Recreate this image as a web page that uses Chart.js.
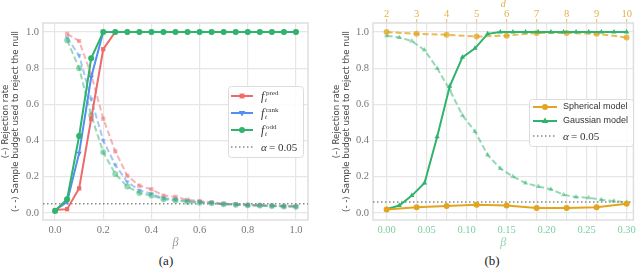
<!DOCTYPE html>
<html lang="en">
<head>
<meta charset="UTF-8">
<title>Rejection rate and sample budget</title>
<style>
  body { margin: 0; background: #fff; }
  .wrap { position: relative; width: 640px; height: 271px; }
  .panel { position: absolute; top: 0; width: 320px; height: 271px; }
  .panel canvas { position: absolute; left: 0; top: 0; }
  .cap { position: absolute; top: 253px; left: 0; width: 320px; text-align: center;
         font-family: "Liberation Serif", serif; font-size: 13px; color: #222; }
</style>
</head>
<body>
<div class="wrap">
  <div class="panel" style="left:0">
    <canvas id="chartA" width="320" height="250"></canvas>
    <div class="cap" style="left:6px">(a)</div>
  </div>
  <div class="panel" style="left:320px">
    <canvas id="chartB" width="320" height="250"></canvas>
    <div class="cap" style="left:12px">(b)</div>
  </div>
</div>

<script src="https://cdn.jsdelivr.net/npm/chart.js"></script>
<script>
// ---- panel (a) ----
var betaA = [0, 0.05, 0.1, 0.15, 0.2, 0.25, 0.3, 0.35, 0.4, 0.45, 0.5, 0.55, 0.6, 0.65, 0.7, 0.75, 0.8, 0.85, 0.9, 0.95, 1.0];
var predRate = [0.015, 0.02, 0.135, 0.52, 0.905, 1, 1, 1, 1, 1, 1, 1, 1, 1, 1, 1, 1, 1, 1, 1, 1];
var rankRate = [0.015, 0.06, 0.33, 0.75, 1, 1, 1, 1, 1, 1, 1, 1, 1, 1, 1, 1, 1, 1, 1, 1, 1];
var oddRate = [0.01, 0.075, 0.425, 0.855, 1, 1, 1, 1, 1, 1, 1, 1, 1, 1, 1, 1, 1, 1, 1, 1, 1];
var predBudget = [null, 0.99, 0.95, 0.765, 0.52, 0.34, 0.205, 0.15, 0.13, 0.095, 0.088, 0.072, 0.065, 0.058, 0.05, 0.048, 0.043, 0.042, 0.04, 0.037, 0.036];
var rankBudget = [null, 0.97, 0.87, 0.63, 0.40, 0.265, 0.17, 0.125, 0.105, 0.08, 0.075, 0.065, 0.06, 0.055, 0.048, 0.045, 0.042, 0.04, 0.038, 0.036, 0.035];
var oddBudget = [null, 0.955, 0.80, 0.54, 0.335, 0.215, 0.145, 0.11, 0.095, 0.075, 0.068, 0.06, 0.055, 0.052, 0.047, 0.044, 0.041, 0.04, 0.037, 0.035, 0.034];
var alphaA = 0.05;
var xTicksA = [0, 0.2, 0.4, 0.6, 0.8, 1.0];
var yTicks = [0, 0.2, 0.4, 0.6, 0.8, 1.0];

// ---- panel (b) ----
var betaB = [0, 0.0158, 0.0316, 0.0474, 0.0632, 0.0789, 0.0947, 0.1105, 0.1263, 0.1421, 0.1579, 0.1737, 0.1895, 0.2053, 0.2211, 0.2368, 0.2526, 0.2684, 0.2842, 0.3];
var gaussRate = [0.02, 0.04, 0.095, 0.165, 0.42, 0.70, 0.86, 0.91, 0.99, 1, 1, 1, 1, 1, 1, 1, 1, 1, 1, 1];
var gaussBudget = [0.98, 0.97, 0.95, 0.90, 0.80, 0.68, 0.54, 0.45, 0.32, 0.245, 0.20, 0.165, 0.145, 0.13, 0.10, 0.087, 0.083, 0.072, 0.065, 0.058];
var dims = [2, 3, 4, 5, 6, 7, 8, 9, 10];
var sphRate = [0.018, 0.03, 0.038, 0.044, 0.04, 0.027, 0.027, 0.031, 0.05];
var sphBudget = [1.0, 0.99, 0.985, 0.975, 0.98, 0.995, 0.995, 0.99, 0.97];
var alphaB = 0.06;
var xTicksB = [0, 0.05, 0.1, 0.15, 0.2, 0.25, 0.3];

var RED = '#ee6b6b', RED_L = 'rgba(238,107,107,0.5)';
var BLUE = '#528ff0', BLUE_L = 'rgba(82,143,240,0.5)';
var GREEN = '#2fb36d', GREEN_L = 'rgba(47,179,109,0.5)';
var ORANGE = '#e3a520', ORANGE_L = 'rgba(227,165,32,0.75)';
var GRID = '#e6e6e6';
var SERIF = '"Liberation Serif", serif';
var SANS = '"DejaVu Sans", sans-serif';

function pts(xs, ys) {
    return xs.map(function (x, i) { return { x: x, y: ys[i] }; });
}

function line(data, color, shape, dashed, rot, xAxis) {
    return {
        data: data,
        xAxisID: xAxis || 'x',
        borderColor: color,
        backgroundColor: color,
        borderWidth: 2,
        borderDash: dashed ? [6, 3] : [],
        pointStyle: shape,
        pointRotation: rot || 0,
        pointRadius: 3,
        pointBorderWidth: 0,
        spanGaps: false,
        tension: 0
    };
}

function alphaLine(xmin, xmax, y) {
    return {
        data: [{ x: xmin, y: y }, { x: xmax, y: y }],
        borderColor: '#888',
        borderWidth: 1.5,
        borderDash: [1.5, 2.5],
        pointRadius: 0
    };
}

function drawMarker(ctx, shape, x, y, r, color, rot) {
    ctx.save();
    ctx.fillStyle = color;
    ctx.translate(x, y);
    ctx.rotate((rot || 0) * Math.PI / 180);
    ctx.beginPath();
    if (shape === 'rect') {
        ctx.rect(-r * 0.8, -r * 0.8, r * 1.6, r * 1.6);
    } else if (shape === 'triangle') {
        ctx.moveTo(0, -r * 1.2);
        ctx.lineTo(r * 1.1, r * 0.7);
        ctx.lineTo(-r * 1.1, r * 0.7);
        ctx.closePath();
    } else {
        ctx.arc(0, 0, r, 0, Math.PI * 2);
    }
    ctx.fill();
    ctx.restore();
}

function legendBox(ctx, x, y, w, h) {
    ctx.save();
    ctx.fillStyle = 'rgba(255,255,255,0.85)';
    ctx.strokeStyle = '#dcdcdc';
    ctx.lineWidth = 1;
    ctx.beginPath();
    ctx.roundRect(x + 0.5, y + 0.5, w, h, 3);
    ctx.fill();
    ctx.stroke();
    ctx.restore();
}

function legendLine(ctx, x1, x2, y, color, dash) {
    ctx.save();
    ctx.strokeStyle = color;
    ctx.lineWidth = dash ? 1.5 : 2;
    ctx.setLineDash(dash || []);
    ctx.beginPath();
    ctx.moveTo(x1, y);
    ctx.lineTo(x2, y);
    ctx.stroke();
    ctx.restore();
}

var framePlugin = {
    id: 'frame',
    beforeDatasetsDraw: function (chart) {
        var a = chart.chartArea, ctx = chart.ctx;
        ctx.save();
        ctx.strokeStyle = '#dedede';
        ctx.lineWidth = 1.5;
        ctx.strokeRect(a.left, a.top, a.right - a.left, a.bottom - a.top);
        ctx.restore();
    }
};

var legendA = {
    id: 'legendA',
    afterDraw: function (chart) {
        var ctx = chart.ctx;
        legendBox(ctx, 228, 86, 75, 71);
        var rows = [
            { y: 96, c: RED, s: 'rect', sup: 'pred' },
            { y: 113, c: BLUE, s: 'triangle', rot: 180, sup: 'rank' },
            { y: 130, c: GREEN, s: 'circle', sup: 'odd' }
        ];
        ctx.save();
        ctx.fillStyle = '#333';
        ctx.textBaseline = 'alphabetic';
        rows.forEach(function (r) {
            legendLine(ctx, 231, 253, r.y, r.c);
            drawMarker(ctx, r.s, 242, r.y, 3, r.c, r.rot);
            ctx.font = 'italic 12px ' + SERIF;
            ctx.fillText('f', 261, r.y + 4);
            ctx.font = '7px ' + SERIF;
            ctx.fillText(r.sup, 266, r.y - 1);
            ctx.font = 'italic 7px ' + SERIF;
            ctx.fillText('t', 265, r.y + 6);
        });
        legendLine(ctx, 231, 253, 147, '#888', [1.5, 2.5]);
        ctx.font = 'italic 11px ' + SERIF;
        ctx.fillText('\u03b1', 261, 151);
        ctx.font = '11px ' + SERIF;
        ctx.fillText('= 0.05', 269, 151);
        ctx.restore();
    }
};

var legendB = {
    id: 'legendB',
    afterDraw: function (chart) {
        var ctx = chart.ctx;
        legendBox(ctx, 209, 99, 104, 47);
        legendLine(ctx, 213, 237, 107, ORANGE);
        drawMarker(ctx, 'circle', 225, 107, 3, ORANGE);
        legendLine(ctx, 213, 237, 121, GREEN);
        drawMarker(ctx, 'triangle', 225, 121, 3, GREEN);
        legendLine(ctx, 213, 237, 136, '#888', [1.5, 2.5]);
        ctx.save();
        ctx.fillStyle = '#333';
        ctx.textBaseline = 'middle';
        ctx.font = '9px "Liberation Sans", sans-serif';
        ctx.fillText('Spherical model', 243, 107);
        ctx.fillText('Gaussian model', 243, 121);
        ctx.font = 'italic 11px ' + SERIF;
        ctx.fillText('\u03b1', 243, 137);
        ctx.font = '11px ' + SERIF;
        ctx.fillText('= 0.05', 251, 137);
        ctx.restore();
    }
};

function yAxis(width, titlePad) {
    return {
        type: 'linear',
        min: -0.04,
        max: 1.05,
        afterBuildTicks: function (s) { s.ticks = yTicks.map(function (v) { return { value: v }; }); },
        afterFit: function (s) { s.width = width; },
        ticks: {
            color: '#777',
            font: { family: SERIF, size: 10.5 },
            padding: 4,
            callback: function (v) { return v.toFixed(1); }
        },
        grid: { color: GRID, lineWidth: 1.2, drawTicks: false },
        border: { display: false },
        title: {
            display: true,
            text: ['(\u2013) Rejection rate', '(- -) Sample budget used to reject the null'],
            color: '#444',
            font: { family: SANS, size: 8.6, lineHeight: 1.25 },
            padding: { top: titlePad, bottom: 0 }
        }
    };
}

new Chart(document.getElementById('chartA'), {
    type: 'line',
    data: {
        datasets: [
            line(pts(betaA, oddRate), GREEN, 'circle'),
            line(pts(betaA, rankRate), BLUE, 'triangle', false, 180),
            line(pts(betaA, predRate), RED, 'rect'),
            alphaLine(-0.05, 1.05, alphaA),
            line(pts(betaA, oddBudget), GREEN_L, 'circle', true),
            line(pts(betaA, rankBudget), BLUE_L, 'triangle', true, 180),
            line(pts(betaA, predBudget), RED_L, 'rect', true)
        ]
    },
    options: {
        responsive: false,
        animation: false,
        layout: { padding: { top: 23, right: 12, left: 0, bottom: 0 } },
        plugins: { legend: { display: false }, tooltip: { enabled: false } },
        scales: {
            x: {
                type: 'linear',
                min: -0.05,
                max: 1.05,
                afterBuildTicks: function (s) { s.ticks = xTicksA.map(function (v) { return { value: v }; }); },
                afterFit: function (s) { s.height = 30; },
                ticks: {
                    color: '#777',
                    font: { family: SERIF, size: 10.5 },
                    padding: 4,
                    maxRotation: 0,
                    callback: function (v) { return v.toFixed(1); }
                },
                grid: { color: GRID, lineWidth: 1.2, drawTicks: false },
                border: { display: false },
                title: {
                    display: true,
                    text: '\u03b2',
                    color: '#999',
                    font: { family: SERIF, size: 12, style: 'italic' },
                    padding: 0
                }
            },
            y: yAxis(43, 0)
        }
    },
    plugins: [framePlugin, legendA]
});

var bMin = -0.017, bMax = 0.3085;
var dMin = 2 + bMin / 0.3 * 8, dMax = 2 + bMax / 0.3 * 8;

new Chart(document.getElementById('chartB'), {
    type: 'line',
    data: {
        datasets: [
            line(pts(dims, sphRate), ORANGE, 'circle', false, 0, 'd'),
            line(pts(betaB, gaussRate), GREEN, 'triangle'),
            alphaLine(bMin, bMax, alphaB),
            line(pts(dims, sphBudget), ORANGE_L, 'circle', true, 0, 'd'),
            line(pts(betaB, gaussBudget), GREEN_L, 'triangle', true)
        ]
    },
    options: {
        responsive: false,
        animation: false,
        layout: { padding: { top: 0, right: 6, left: 0, bottom: 0 } },
        plugins: { legend: { display: false }, tooltip: { enabled: false } },
        scales: {
            x: {
                type: 'linear',
                position: 'bottom',
                min: bMin,
                max: bMax,
                afterBuildTicks: function (s) { s.ticks = xTicksB.map(function (v) { return { value: v }; }); },
                afterFit: function (s) { s.height = 30; },
                ticks: {
                    color: '#7ccf9f',
                    font: { family: SERIF, size: 10.5 },
                    padding: 4,
                    maxRotation: 0,
                    callback: function (v) { return v.toFixed(2); }
                },
                grid: { color: GRID, lineWidth: 1.2, drawTicks: false },
                border: { display: false },
                title: {
                    display: true,
                    text: '\u03b2',
                    color: '#8fd6ae',
                    font: { family: SERIF, size: 12, style: 'italic' },
                    padding: 0
                }
            },
            d: {
                type: 'linear',
                position: 'top',
                min: dMin,
                max: dMax,
                afterBuildTicks: function (s) { s.ticks = dims.map(function (v) { return { value: v }; }); },
                afterFit: function (s) { s.height = 23; },
                ticks: {
                    color: '#e3b04a',
                    font: { family: SERIF, size: 10.5 },
                    padding: -2,
                    maxRotation: 0
                },
                grid: { color: GRID, lineWidth: 1.2, drawTicks: true, tickLength: 4, tickColor: '#ecc77a' },
                border: { display: false },
                title: {
                    display: true,
                    text: 'd',
                    color: '#e3b04a',
                    font: { family: SERIF, size: 10, style: 'italic', lineHeight: 1 },
                    padding: { top: -1, bottom: 0 }
                }
            },
            y: yAxis(53, 11)
        }
    },
    plugins: [framePlugin, legendB]
});
</script>
</body>
</html>
